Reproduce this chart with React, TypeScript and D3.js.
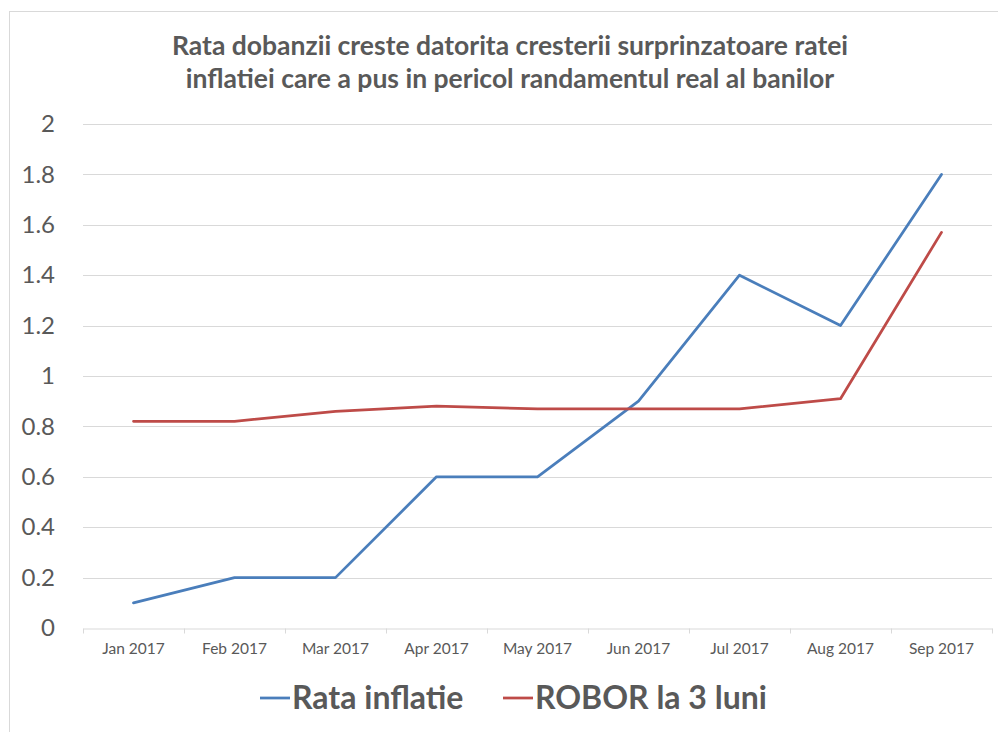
import * as d3 from 'd3';
import React, { useRef, useEffect } from 'react';

const W = 998;
const H = 732;

const margin = { top: 124, right: 6, bottom: 104, left: 83 };
const width = W - margin.left - margin.right;
const height = H - margin.top - margin.bottom;

const months = ['Jan 2017', 'Feb 2017', 'Mar 2017', 'Apr 2017', 'May 2017', 'Jun 2017', 'Jul 2017', 'Aug 2017', 'Sep 2017'];
const rataInflatie = [0.1, 0.2, 0.2, 0.6, 0.6, 0.9, 1.4, 1.2, 1.8];
const robor3Luni = [0.82, 0.82, 0.86, 0.88, 0.87, 0.87, 0.87, 0.91, 1.57];
const yTicks = [0, 0.2, 0.4, 0.6, 0.8, 1, 1.2, 1.4, 1.6, 1.8, 2];

const titleLines = [
  'Rata dobanzii creste datorita cresterii surprinzatoare ratei',
  'inflatiei care a pus in pericol randamentul real al banilor',
];

const series = [
  { name: 'Rata inflatie', values: rataInflatie, color: '#4a7ebb' },
  { name: 'ROBOR la 3 luni', values: robor3Luni, color: '#be4b48' },
];

const textColor = '#595959';
const font = 'Lato, "Open Sans", sans-serif';

function App() {
  const ref = useRef<SVGSVGElement>(null);

  useEffect(() => {
    const svg = d3.select(ref.current);
    svg.selectAll('*').remove();

    // chart frame (only top/left visible in the original)
    svg.append('rect')
      .attr('x', 9.5).attr('y', 11.5)
      .attr('width', W).attr('height', H)
      .attr('fill', 'white')
      .attr('stroke', '#d9d9d9');

    // title
    svg.append('g')
      .selectAll('text')
      .data(titleLines)
      .join('text')
      .attr('x', 510)
      .attr('y', (d, i) => 55 + i * 33)
      .attr('text-anchor', 'middle')
      .attr('font-family', font)
      .attr('font-weight', 'bold')
      .attr('font-size', 26.5)
      .attr('fill', textColor)
      .text((d) => d);

    const g = svg.append('g').attr('transform', `translate(${margin.left},${margin.top})`);

    const x = d3.scaleBand().domain(months).range([0, width]);
    const y = d3.scaleLinear().domain([0, 2]).range([height, 0]);

    // gridlines
    g.append('g')
      .selectAll('line')
      .data(yTicks.filter((t) => t > 0))
      .join('line')
      .attr('x1', 0).attr('x2', width)
      .attr('y1', (d) => Math.round(y(d)) + 0.5)
      .attr('y2', (d) => Math.round(y(d)) + 0.5)
      .attr('stroke', '#d9d9d9')
      .attr('stroke-width', 1);

    // y axis labels
    const yAxis = g.append('g')
      .call(d3.axisLeft(y).tickValues(yTicks).tickSize(0).tickPadding(28).tickFormat((d) => String(d)));
    yAxis.select('.domain').remove();
    yAxis.selectAll('text')
      .attr('font-family', font)
      .attr('font-size', 24)
      .attr('fill', textColor);

    // x axis
    const xAxis = g.append('g')
      .attr('transform', `translate(0,${Math.round(height) + 0.5})`)
      .call(d3.axisBottom(x).tickSize(0).tickPadding(14));
    xAxis.select('.domain').attr('stroke', '#d9d9d9');
    xAxis.selectAll('text')
      .attr('font-family', font)
      .attr('font-size', 15.5)
      .attr('fill', textColor);
    // boundary ticks between categories
    xAxis.append('g')
      .selectAll('line')
      .data(d3.range(months.length + 1))
      .join('line')
      .attr('x1', (i) => Math.round(i * x.step()) + 0.5)
      .attr('x2', (i) => Math.round(i * x.step()) + 0.5)
      .attr('y1', 0).attr('y2', 5)
      .attr('stroke', '#d9d9d9');

    // lines
    const line = d3.line<number>()
      .x((d, i) => (x(months[i]) as number) + x.bandwidth() / 2)
      .y((d) => y(d));

    g.append('g')
      .selectAll('path')
      .data(series)
      .join('path')
      .attr('d', (d) => line(d.values))
      .attr('fill', 'none')
      .attr('stroke', (d) => d.color)
      .attr('stroke-width', 2.75)
      .attr('stroke-linejoin', 'round')
      .attr('stroke-linecap', 'round');

    // legend
    const legendX = [260, 503];
    const legend = svg.append('g')
      .selectAll('g')
      .data(series)
      .join('g')
      .attr('transform', (d, i) => `translate(${legendX[i]},698)`);
    legend.append('line')
      .attr('x1', 0).attr('x2', 30)
      .attr('y1', 0).attr('y2', 0)
      .attr('stroke', (d) => d.color)
      .attr('stroke-width', 2.75);
    legend.append('text')
      .attr('x', 32)
      .attr('y', 11)
      .attr('font-family', font)
      .attr('font-weight', 'bold')
      .attr('font-size', 32)
      .attr('fill', textColor)
      .text((d) => d.name);
  }, []);

  return (
    <svg
      ref={ref}
      width={W}
      height={H}
      style={{ position: 'absolute', left: 0, top: 0, background: 'white' }}
    />
  );
}

export default App;
